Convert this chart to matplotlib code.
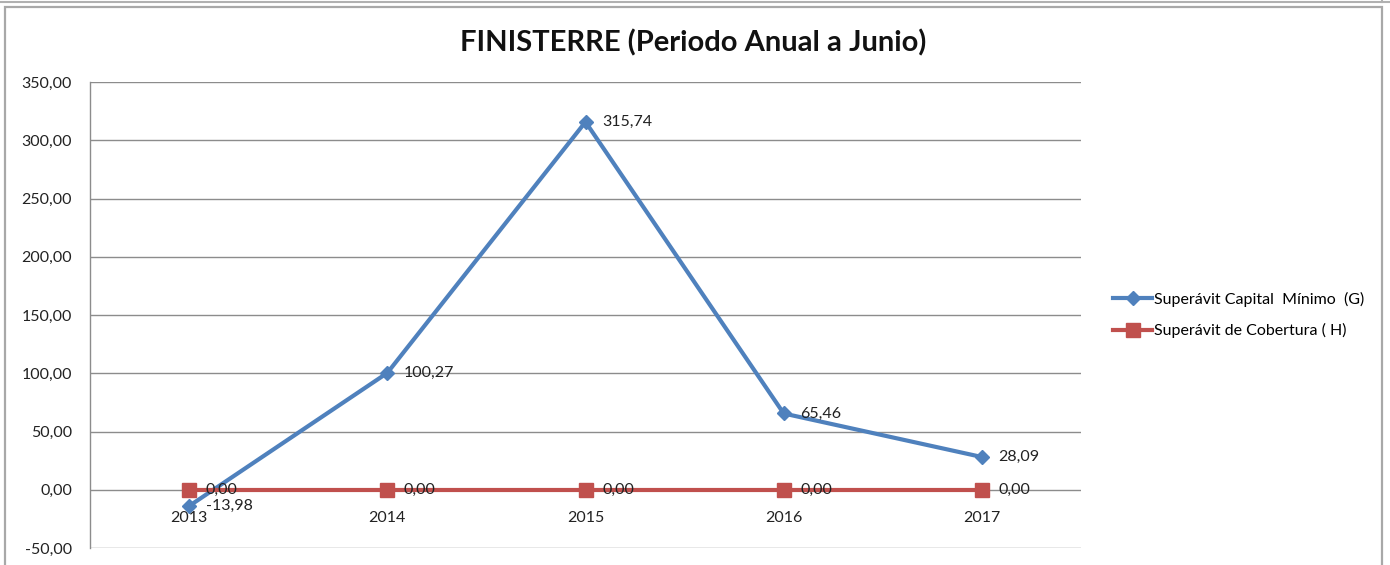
import matplotlib
matplotlib.use("Agg")
import matplotlib.pyplot as plt
from matplotlib.patches import Rectangle
from matplotlib.lines import Line2D

years = ["2013", "2014", "2015", "2016", "2017"]
capital_minimo = [-13.98, 100.27, 315.74, 65.46, 28.09]
cobertura = [0.00, 0.00, 0.00, 0.00, 0.00]
series_names = ["Superávit Capital  Mínimo  (G)", "Superávit de Cobertura ( H)"]
yticks = [-50, 0, 50, 100, 150, 200, 250, 300, 350]
title = "FINISTERRE (Periodo Anual a Junio)"

def fmt(v):
    return f"{v:.2f}".replace(".", ",")

W, H = 1390, 565
fig = plt.figure(figsize=(W / 100, H / 100), dpi=100)
fig.patch.set_facecolor("white")
font = ["Lato", "DejaVu Sans"]
fs = 11.5

# outer frame
fig.add_artist(Line2D([0, 1], [1 - 2 / H, 1 - 2 / H], transform=fig.transFigure, color="#B0B0B0", lw=1.5))
fig.add_artist(Line2D([1 - 8 / W, 1 - 8 / W], [1 - 2 / H, 1], transform=fig.transFigure, color="#B0B0B0", lw=1.5))
fig.add_artist(Rectangle((5 / W, -0.05), (1382 - 5) / W, 1.05 - 7 / H, transform=fig.transFigure,
                         fill=False, edgecolor="#A8A8A8", lw=1.6))

left, right, top, bottom = 90 / W, 1081 / W, 82 / H, 548 / H
ax = fig.add_axes([left, 1 - bottom, right - left, bottom - top])
ax.set_xlim(0, 5)
ax.set_ylim(-50, 350)
ax.set_yticks(yticks)
ax.set_yticklabels([fmt(v) for v in yticks], fontsize=fs, family=font, color="#222222")
ax.tick_params(axis="y", length=0, pad=13)
ax.set_xticks([])
for s in ["top", "right", "bottom"]:
    ax.spines[s].set_visible(False)
ax.spines["left"].set_color("#8C8C8C")
ax.spines["left"].set_linewidth(1.0)
for v in yticks:
    ax.axhline(v, color="#8C8C8C", lw=1.0, zorder=1)

x = [i + 0.5 for i in range(len(years))]
ax.plot(x, capital_minimo, color="#4F81BD", lw=3, marker="D", ms=7, zorder=3, label=series_names[0])
ax.plot(x, cobertura, color="#C0504D", lw=3, marker="s", ms=10, zorder=4, label=series_names[1])

for xi, yr in zip(x, years):
    ax.annotate(yr, (xi, 0), xytext=(0, -20.5), textcoords="offset points", ha="center", va="center",
                fontsize=fs, family=font, color="#222222")
for xi, v in zip(x, capital_minimo):
    ax.annotate(fmt(v), (xi, v), xytext=(12, 0), textcoords="offset points", ha="left", va="center",
                fontsize=fs, family=font, color="#222222", zorder=5)
for xi, v in zip(x, cobertura):
    ax.annotate(fmt(v), (xi, v), xytext=(12, 0), textcoords="offset points", ha="left", va="center",
                fontsize=fs, family=font, color="#222222", zorder=5)

fig.text(693 / W, 1 - 43 / H, title, ha="center", va="center", fontsize=21, fontweight="bold",
         family=font, color="#111111")

leg = fig.legend(loc="center left", bbox_to_anchor=(1099 / W, 1 - 315 / H), frameon=False,
                 prop={"family": font, "size": fs}, handlelength=2.4, labelspacing=1.05,
                 handletextpad=0.15)

fig.savefig("out.png", dpi=100, facecolor="white")
